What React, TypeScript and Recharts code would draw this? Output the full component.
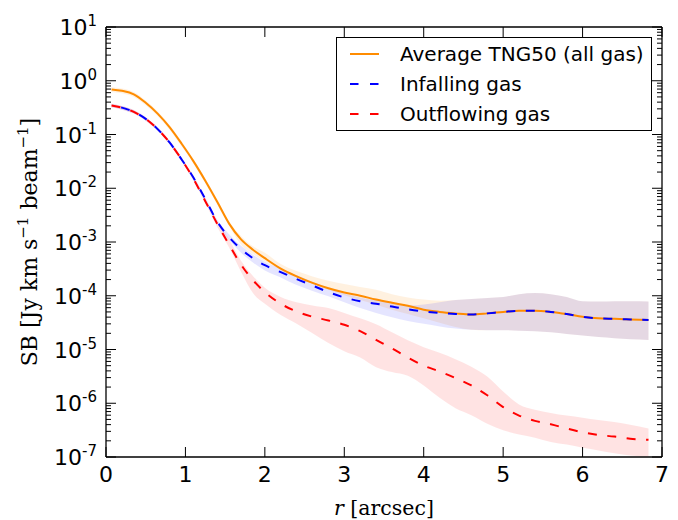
import React from 'react';
import { ComposedChart, Line, Area, XAxis, YAxis } from 'recharts';

// radius in arcsec
const radius = [0.07, 0.2, 0.35, 0.5, 0.65, 0.8, 0.95, 1.1, 1.25, 1.4, 1.55, 1.7, 1.85,
  2.0, 2.2, 2.4, 2.6, 2.8, 3.0, 3.2, 3.4, 3.6, 3.8, 4.0, 4.2, 4.4, 4.6, 4.8, 5.0, 5.2, 5.4, 5.6, 5.8, 6.0, 6.2, 6.4, 6.6, 6.83];

const allGas = [0.69, 0.65, 0.56, 0.39, 0.245, 0.137, 6.8e-2, 3.2e-2, 1.38e-2, 5.6e-3, 2.2e-3, 1.12e-3, 7.2e-4,
  5.0e-4, 3.2e-4, 2.3e-4, 1.74e-4, 1.38e-4, 1.15e-4, 1.0e-4, 8.5e-5, 7.4e-5, 6.5e-5, 5.5e-5, 5.0e-5, 4.7e-5, 4.5e-5, 4.7e-5, 5.0e-5, 5.25e-5, 5.25e-5, 5.0e-5, 4.57e-5, 4.07e-5, 3.8e-5, 3.72e-5, 3.63e-5, 3.55e-5];
const allGasLow = [0.62, 0.585, 0.5, 0.35, 0.22, 0.123, 6.1e-2, 2.9e-2, 1.24e-2, 5.0e-3, 2.0e-3, 8.9e-4, 6.0e-4,
  4.37e-4, 3.0e-4, 2.19e-4, 1.66e-4, 1.29e-4, 1.02e-4, 8.3e-5, 6.8e-5, 5.5e-5, 4.57e-5, 3.8e-5, 3.16e-5, 2.63e-5, 2.34e-5, 2.29e-5, 2.29e-5, 2.24e-5, 2.19e-5, 2.09e-5, 1.95e-5, 1.82e-5, 1.7e-5, 1.62e-5, 1.55e-5, 1.51e-5];
const allGasHigh = [0.76, 0.72, 0.62, 0.43, 0.27, 0.151, 7.5e-2, 3.5e-2, 1.52e-2, 6.2e-3, 2.4e-3, 1.3e-3, 8.3e-4,
  6.3e-4, 3.9e-4, 2.88e-4, 2.29e-4, 1.91e-4, 1.66e-4, 1.45e-4, 1.29e-4, 1.07e-4, 9.3e-5, 8.5e-5, 8.1e-5, 8.3e-5, 8.7e-5, 9.1e-5, 9.5e-5, 1.07e-4, 1.12e-4, 1.07e-4, 9.5e-5, 7.9e-5, 7.8e-5, 7.9e-5, 7.9e-5, 7.8e-5];

const infalling = [0.347, 0.316, 0.263, 0.195, 0.126, 7.1e-2, 3.47e-2, 1.58e-2, 6.3e-3, 2.4e-3, 1.23e-3, 7.4e-4, 5.0e-4,
  3.7e-4, 2.75e-4, 2.04e-4, 1.55e-4, 1.17e-4, 9.3e-5, 7.9e-5, 7.1e-5, 6.3e-5, 5.6e-5, 5.1e-5, 4.8e-5, 4.57e-5, 4.47e-5, 4.7e-5, 5.0e-5, 5.25e-5, 5.25e-5, 5.0e-5, 4.57e-5, 4.07e-5, 3.8e-5, 3.72e-5, 3.63e-5, 3.55e-5];
const infallingLow = [0.32, 0.29, 0.245, 0.18, 0.117, 6.6e-2, 3.2e-2, 1.47e-2, 5.9e-3, 2.2e-3, 1.1e-3, 6.3e-4, 4.17e-4,
  2.95e-4, 2.19e-4, 1.58e-4, 1.23e-4, 9.8e-5, 7.6e-5, 5.9e-5, 4.8e-5, 4.0e-5, 3.39e-5, 3.0e-5, 2.69e-5, 2.45e-5, 2.34e-5, 2.29e-5, 2.29e-5, 2.24e-5, 2.19e-5, 2.09e-5, 1.95e-5, 1.82e-5, 1.7e-5, 1.62e-5, 1.55e-5, 1.51e-5];
const infallingHigh = [0.375, 0.34, 0.285, 0.21, 0.136, 7.7e-2, 3.75e-2, 1.7e-2, 6.8e-3, 2.6e-3, 1.4e-3, 8.5e-4, 5.8e-4,
  4.3e-4, 3.2e-4, 2.4e-4, 1.82e-4, 1.38e-4, 1.1e-4, 9.3e-5, 8.3e-5, 7.4e-5, 6.6e-5, 6.9e-5, 7.6e-5, 8.3e-5, 8.7e-5, 9.1e-5, 9.5e-5, 1.07e-4, 1.12e-4, 1.07e-4, 9.5e-5, 7.9e-5, 7.8e-5, 7.9e-5, 7.9e-5, 7.8e-5];

const outflowing = [0.347, 0.316, 0.263, 0.195, 0.126, 7.1e-2, 3.47e-2, 1.51e-2, 5.75e-3, 2.19e-3, 8.9e-4, 3.8e-4, 1.95e-4,
  1.17e-4, 7.1e-5, 5.1e-5, 4.07e-5, 3.47e-5, 2.88e-5, 2.19e-5, 1.51e-5, 1.05e-5, 7.1e-6, 5.0e-6, 3.9e-6, 2.95e-6, 2.14e-6, 1.41e-6, 8.5e-7, 5.9e-7, 4.7e-7, 4.07e-7, 3.39e-7, 2.88e-7, 2.57e-7, 2.4e-7, 2.19e-7, 2.09e-7];
const outflowingLow = [0.32, 0.29, 0.245, 0.18, 0.117, 6.6e-2, 3.2e-2, 1.4e-2, 5.3e-3, 1.9e-3, 7.9e-4, 2.8e-4, 1.12e-4,
  7.1e-5, 4.37e-5, 3.0e-5, 2.0e-5, 1.32e-5, 9.3e-6, 7.1e-6, 4.7e-6, 3.8e-6, 3.24e-6, 2.14e-6, 1.26e-6, 8.1e-7, 6.0e-7, 4.17e-7, 3.16e-7, 2.63e-7, 2.29e-7, 1.91e-7, 1.7e-7, 1.48e-7, 1.32e-7, 1.17e-7, 1.07e-7, 1.02e-7];
const outflowingHigh = [0.375, 0.34, 0.285, 0.21, 0.136, 7.7e-2, 3.75e-2, 1.65e-2, 6.3e-3, 2.4e-3, 1.12e-3, 4.47e-4, 2.34e-4,
  1.41e-4, 9.5e-5, 7.6e-5, 6.6e-5, 5.9e-5, 4.8e-5, 3.8e-5, 2.95e-5, 2.09e-5, 1.48e-5, 1.1e-5, 8.7e-6, 6.6e-6, 4.8e-6, 3.16e-6, 1.66e-6, 9.5e-7, 7.6e-7, 6.6e-7, 5.9e-7, 5.4e-7, 4.9e-7, 4.47e-7, 3.98e-7, 3.39e-7];

const xTicks = [0, 1, 2, 3, 4, 5, 6, 7];
const yMajorExponents = [-7, -6, -5, -4, -3, -2, -1, 0, 1];
const yMinorMultipliers = [2, 3, 4, 5, 6, 7, 8, 9];
const seriesNames = ['Average TNG50 (all gas)', 'Infalling gas', 'Outflowing gas'];
const seriesColors = ['#ff8c00', '#0000ff', '#ff0000'];

const yTicks: number[] = [];
yMajorExponents.forEach((e) => {
  yTicks.push(Math.pow(10, e));
  if (e < 1) yMinorMultipliers.forEach((m) => yTicks.push(m * Math.pow(10, e)));
});

const data = radius.map((r, i) => ({
  r,
  all: allGas[i],
  allBand: [allGasLow[i], allGasHigh[i]],
  inf: infalling[i],
  infBand: [infallingLow[i], infallingHigh[i]],
  out: outflowing[i],
  outBand: [outflowingLow[i], outflowingHigh[i]],
}));

const TICK_FONT = 'DejaVu Sans';
const LABEL_FONT = 'DejaVu Serif';
const DASH = '9 10.5';

const isMajor = (v: number) => {
  const lg = Math.log10(v);
  return Math.abs(lg - Math.round(lg)) < 1e-6;
};

const YTickLeft = (p: any) => {
  const { x, y, payload } = p;
  const v = payload.value;
  const major = isMajor(v);
  const exp = Math.round(Math.log10(v));
  return (
    <g>
      <line x1={x} x2={x + (major ? 10 : 5)} y1={y} y2={y} stroke="#000" strokeWidth={1} />
      {major && (
        <text x={x - 9} y={y + 8} textAnchor="end" fontFamily={TICK_FONT} fontSize={22} fill="#000">
          10<tspan fontSize={15} dy={-9}>{String(exp)}</tspan>
        </text>
      )}
    </g>
  );
};

const YTickRight = (p: any) => {
  const { x, y, payload } = p;
  const major = isMajor(payload.value);
  return <line x1={x} x2={x - (major ? 10 : 5)} y1={y} y2={y} stroke="#000" strokeWidth={1} />;
};

const XTickBottom = (p: any) => {
  const { x, y, payload } = p;
  return (
    <g>
      <line x1={x} x2={x} y1={y} y2={y - 10} stroke="#000" strokeWidth={1} />
      <text x={x} y={y + 25} textAnchor="middle" fontFamily={TICK_FONT} fontSize={22} fill="#000">
        {String(payload.value)}
      </text>
    </g>
  );
};

const XTickTop = (p: any) => {
  const { x, y } = p;
  return <line x1={x} x2={x} y1={y} y2={y + 10} stroke="#000" strokeWidth={1} />;
};

const XLabel = (p: any) => {
  const vb = p.viewBox || { x: 98, width: 556, y: 449 };
  const cx = vb.x + vb.width / 2;
  return (
    <text x={cx} y={507} textAnchor="middle" fontFamily={LABEL_FONT} fontSize={20.5} fill="#000">
      <tspan fontStyle="italic">r</tspan> [arcsec]
    </text>
  );
};

const YLabel = (p: any) => {
  const vb = p.viewBox || { y: 19, height: 430 };
  const cx = 29;
  const cy = vb.y + vb.height / 2;
  return (
    <text x={cx} y={cy} textAnchor="middle" fontFamily={LABEL_FONT} fontSize={22} fill="#000"
      transform={`rotate(-90, ${cx}, ${cy})`}>
      SB [Jy km s<tspan fontSize={15} dy={-9}>−1</tspan><tspan dy={9}> beam</tspan>
      <tspan fontSize={15} dy={-9}>−1</tspan><tspan dy={9}>]</tspan>
    </text>
  );
};

const LegendBox = () => (
  <div
    style={{
      position: 'absolute', left: 328, top: 29, width: 316, height: 94, boxSizing: 'border-box',
      border: '1.3px solid #000', background: '#fff', fontFamily: TICK_FONT, fontSize: 20, color: '#000',
    }}
  >
    {seriesNames.map((name, i) => (
      <div key={name} style={{ position: 'absolute', left: 0, top: 1 + i * 30, height: 30, width: 300 }}>
        <svg width={32} height={30} style={{ position: 'absolute', left: 13, top: 0 }}>
          <line x1={0} x2={29} y1={15} y2={15} stroke={seriesColors[i]} strokeWidth={2}
            strokeDasharray={i === 0 ? undefined : '8.5 11.5'} />
        </svg>
        <span style={{ position: 'absolute', left: 63, top: 0, lineHeight: '30px', whiteSpace: 'nowrap' }}>{name}</span>
      </div>
    ))}
  </div>
);

export default function App() {
  return (
    <div style={{ position: 'relative', width: 670, height: 512 }}>
      <ComposedChart width={670} height={512} data={data} margin={{ top: 9, right: 6, bottom: 13, left: 48 }}>
        <XAxis xAxisId="b" dataKey="r" type="number" domain={[0, 7]} ticks={xTicks} orientation="bottom"
          height={50} tickSize={0} tickMargin={0} tickLine={false} tick={<XTickBottom />} interval={0}
          allowDataOverflow axisLine={{ stroke: '#000', strokeWidth: 1.3 }} label={<XLabel />} />
        <XAxis xAxisId="t" dataKey="r" type="number" domain={[0, 7]} ticks={xTicks} orientation="top"
          height={10} tickSize={0} tickMargin={0} tickLine={false} tick={<XTickTop />} interval={0}
          allowDataOverflow axisLine={{ stroke: '#000', strokeWidth: 1.3 }} />
        <YAxis yAxisId="l" type="number" scale="log" domain={[1e-7, 10]} ticks={yTicks} orientation="left"
          width={50} tickSize={0} tickMargin={0} tickLine={false} tick={<YTickLeft />} interval={0}
          allowDataOverflow axisLine={{ stroke: '#000', strokeWidth: 1.3 }} label={<YLabel />} />
        <YAxis yAxisId="r" type="number" scale="log" domain={[1e-7, 10]} ticks={yTicks} orientation="right"
          width={10} tickSize={0} tickMargin={0} tickLine={false} tick={<YTickRight />} interval={0}
          allowDataOverflow axisLine={{ stroke: '#000', strokeWidth: 1.3 }} />

        <Area xAxisId="b" yAxisId="l" type="monotone" dataKey="allBand" stroke="none" fill={seriesColors[0]}
          fillOpacity={0.12} isAnimationActive={false} />
        <Area xAxisId="b" yAxisId="l" type="monotone" dataKey="infBand" stroke="none" fill={seriesColors[1]}
          fillOpacity={0.1} isAnimationActive={false} />
        <Area xAxisId="b" yAxisId="l" type="monotone" dataKey="outBand" stroke="none" fill={seriesColors[2]}
          fillOpacity={0.11} isAnimationActive={false} />

        <Line xAxisId="b" yAxisId="l" type="monotone" dataKey="all" stroke={seriesColors[0]} strokeWidth={2}
          dot={false} isAnimationActive={false} />
        <Line xAxisId="b" yAxisId="l" type="monotone" dataKey="inf" stroke={seriesColors[1]} strokeWidth={2}
          strokeDasharray={DASH} strokeDashoffset={-9.75} dot={false} isAnimationActive={false} />
        <Line xAxisId="b" yAxisId="l" type="monotone" dataKey="out" stroke={seriesColors[2]} strokeWidth={2}
          strokeDasharray={DASH} dot={false} isAnimationActive={false} />
      </ComposedChart>
      <LegendBox />
    </div>
  );
}
